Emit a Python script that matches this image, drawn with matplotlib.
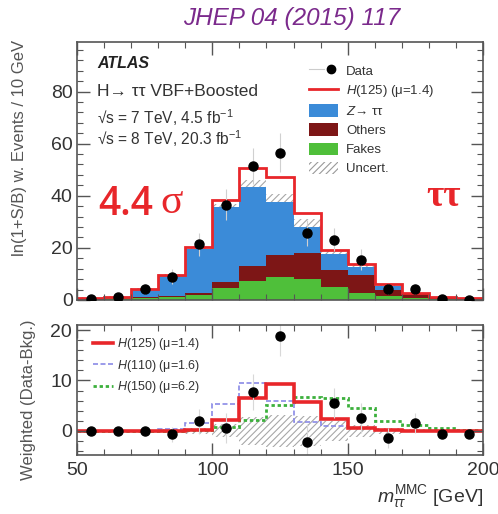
import numpy as np
import matplotlib
matplotlib.use("Agg")
import matplotlib.pyplot as plt
from matplotlib.lines import Line2D
from matplotlib.patches import Patch
from matplotlib.legend_handler import HandlerTuple
from matplotlib.ticker import MultipleLocator

plt.rcParams['font.family'] = ['Liberation Sans', 'DejaVu Sans']
plt.rcParams['mathtext.fontset'] = 'custom'
plt.rcParams['mathtext.rm'] = 'Liberation Sans'
plt.rcParams['mathtext.it'] = 'Liberation Sans:italic'
plt.rcParams['mathtext.bf'] = 'Liberation Sans:bold'
plt.rcParams['hatch.linewidth'] = 0.8

# ---------------- data ----------------
edges = [50, 60, 70, 80, 90, 100, 110, 120, 130, 140, 150, 160, 170, 180, 190, 200]
centers = [55, 65, 75, 85, 95, 105, 115, 125, 135, 145, 155, 165, 175, 185, 195]

fakes  = [0.5, 0.6, 0.9, 1.2, 1.8, 4.5, 7.2, 8.8, 7.9, 4.9, 2.6, 1.6, 0.9, 0.5, 0.4]
others = [0.1, 0.1, 0.2, 0.4, 0.8, 2.3, 5.8, 8.6, 10.1, 6.5, 7.1, 2.2, 1.3, 0.4, 0.2]
ztt    = [0.2, 0.5, 3.1, 7.8, 16.8, 28.9, 30.4, 20.2, 10.0, 6.3, 2.9, 1.5, 0.3, 0.1, 0.1]
h125   = [0.05, 0.1, 0.1, 0.3, 0.8, 2.6, 7.3, 9.6, 5.4, 1.6, 1.3, 0.9, 0.1, 0.05, 0.05]
bkg_unc = [0.2, 0.3, 0.4, 0.5, 0.8, 1.0, 2.6, 3.0, 3.0, 1.2, 1.0, 0.5, 0.3, 0.2, 0.2]
data_top = [0.4, 1.3, 4.2, 9.0, 21.3, 36.6, 51.5, 56.5, 25.7, 23.2, 15.4, 4.2, 4.2, 0.4, 0.1]
data_top_err = [0.8, 1.2, 2.0, 3.0, 4.5, 6.0, 7.0, 7.5, 5.0, 4.5, 4.0, 2.0, 2.0, 0.7, 0.5]

data_diff = [0.0, 0.0, 0.0, -0.7, 1.9, 0.6, 7.7, 18.9, -2.2, 5.5, 2.5, -1.5, 1.6, -0.7, -0.7]
data_diff_err = [0.5, 0.7, 1.0, 1.5, 2.5, 3.0, 3.5, 4.0, 3.5, 3.0, 3.0, 2.0, 2.0, 1.0, 0.8]
diff_unc = [0.1, 0.1, 0.2, 0.3, 0.6, 1.3, 2.8, 3.2, 3.0, 2.0, 1.2, 0.6, 0.3, 0.2, 0.1]
diff_h125 = [0.0, 0.0, 0.0, 0.0, 0.2, 2.1, 6.6, 9.2, 5.7, 2.3, 0.6, 0.1, 0.0, 0.0, 0.0]
diff_h110 = [0.0, 0.0, 0.0, 0.3, 1.5, 5.3, 9.5, 6.0, 1.8, 0.9, 0.5, 0.1, 0.0, 0.0, 0.0]
diff_h150 = [0.0, 0.0, 0.0, 0.0, 0.2, 0.8, 2.1, 5.2, 6.8, 6.6, 4.5, 2.0, 1.1, 0.5, 0.1]

# ---------------- colours ----------------
c_z = '#3b8bd8'
c_oth = '#7d1616'
c_fake = '#4fbf3a'
c_red = '#e8262a'
c_frame = '#555555'

W, H = 498, 514
fig = plt.figure(figsize=(W / 100, H / 100), dpi=100)

def fx(x):
    return x / W

def fy(y):
    return 1 - y / H

ax1 = fig.add_axes([fx(77), fy(300), fx(483) - fx(77), fy(42) - fy(300)])
ax2 = fig.add_axes([fx(77), fy(455), fx(483) - fx(77), fy(325) - fy(455)])

e = np.array(edges, float)
f = np.array(fakes)
o = np.array(others)
z = np.array(ztt)
s1 = f
s2 = f + o
s3 = f + o + z
tot = s3 + np.array(h125)

ax1.stairs(s1, e, baseline=0, fill=True, color=c_fake, lw=0)
ax1.stairs(s2, e, baseline=s1, fill=True, color=c_oth, lw=0)
ax1.stairs(s3, e, baseline=s2, fill=True, color=c_z, lw=0)
ax1.stairs(s3 + np.array(bkg_unc), e, baseline=s3, fill=True, facecolor='none',
           edgecolor='#a8a8a8', hatch='/////', lw=0)
ax1.stairs(tot, e, baseline=None, color=c_red, lw=2.0)
ax1.errorbar(centers, data_top, yerr=data_top_err, fmt='none', ecolor='#d0d0d0', elinewidth=0.8)
ax1.plot(centers, data_top, 'o', color='black', ms=6.5, zorder=5)

ax1.set_xlim(50, 200)
ax1.set_ylim(0, 99)

# bottom panel
ax2.stairs(np.array(diff_unc), e, baseline=-np.array(diff_unc), fill=True, facecolor='none',
           edgecolor='#a8a8a8', hatch='/////', lw=0)
ax2.stairs(diff_h150, e, baseline=None, color='#3cb03c', lw=2.0, ls=(0, (1.2, 1.0)))
ax2.stairs(diff_h110, e, baseline=None, color='#8a8ae6', lw=1.2, ls=(0, (3, 1.5)))
ax2.stairs(diff_h125, e, baseline=None, color=c_red, lw=2.6)
ax2.errorbar(centers, data_diff, yerr=data_diff_err, fmt='none', ecolor='#d8d8d8', elinewidth=0.8)
ax2.plot(centers, data_diff, 'o', color='black', ms=6.5, zorder=5)
ax2.set_xlim(50, 200)
ax2.set_ylim(-4.8, 21)

for ax in (ax1, ax2):
    for sp in ax.spines.values():
        sp.set_color(c_frame)
        sp.set_linewidth(1.2)
    ax.tick_params(which='both', direction='in', top=True, right=True, colors=c_frame,
                   labelcolor='#333333', labelsize=14)
    ax.tick_params(which='major', length=9, width=1)
    ax.tick_params(which='minor', length=4.5, width=0.8)
    ax.xaxis.set_major_locator(MultipleLocator(50))
    ax.xaxis.set_minor_locator(MultipleLocator(10))

ax1.yaxis.set_major_locator(MultipleLocator(20))
ax1.yaxis.set_minor_locator(MultipleLocator(4))
ax1.set_xticklabels([])
ax2.yaxis.set_major_locator(MultipleLocator(10))
ax2.yaxis.set_minor_locator(MultipleLocator(2))
ax1.tick_params(axis='y', pad=3)
ax2.tick_params(axis='x', pad=5)

# y labels
fig.text(fx(20), fy(40), 'ln(1+S/B) w. Events / 10 GeV', rotation=90, ha='center', va='top',
         fontsize=12, color='#555555')
fig.text(fx(28), fy(320), 'Weighted (Data-Bkg.)', rotation=90, ha='center', va='top',
         fontsize=12, color='#555555')
fig.text(fx(483), fy(502), r'$m_{\tau\tau}^{\mathrm{MMC}}$ [GeV]', ha='right', va='baseline',
         fontsize=14, color='#333333')

# title
fig.text(fx(292), fy(19), 'JHEP 04 (2015) 117', ha='center', va='center', fontsize=17.5,
         style='italic', color='#7b2a8c')

# annotations
fig.text(fx(97), fy(63), 'ATLAS', ha='left', va='center', fontsize=11.5, weight='bold',
         style='italic', color='#222222')
fig.text(fx(97), fy(92), 'H→ ττ VBF+Boosted', ha='left', va='center', fontsize=12.5, color='#333333')
fig.text(fx(97), fy(118), r'√s = 7 TeV, 4.5 fb$^{-1}$', ha='left', va='center', fontsize=11.2,
         color='#333333')
fig.text(fx(97), fy(139), r'√s = 8 TeV, 20.3 fb$^{-1}$', ha='left', va='center', fontsize=11.2,
         color='#333333')
fig.text(fx(98), fy(205), '4.4', ha='left', va='center', fontsize=28, color=c_red,
         family='Open Sans', weight='semibold')
fig.text(fx(160), fy(203), 'σ', ha='left', va='center', fontsize=30, color=c_red,
         family='Liberation Serif')
fig.text(fx(444), fy(196), 'ττ', ha='center', va='center', fontsize=27, color=c_red,
         family='Liberation Serif', weight='bold')

# legends
h_data = (Line2D([], [], color='#cccccc', lw=0.8), Line2D([], [], marker='o', color='black', ls='none', ms=6))
handles1 = [h_data,
            Line2D([], [], color=c_red, lw=2),
            Patch(facecolor=c_z, edgecolor='none'),
            Patch(facecolor=c_oth, edgecolor='none'),
            Patch(facecolor=c_fake, edgecolor='none'),
            Patch(facecolor='none', edgecolor='#9a9a9a', hatch='/////', lw=0)]
labels1 = ['Data', r'$H$(125) (μ=1.4)', r'$Z$→ ττ', 'Others', 'Fakes', 'Uncert.']
fig.legend(handles1, labels1, loc='upper left', bbox_to_anchor=(fx(309), fy(64)),
           frameon=False, fontsize=9.5, handlelength=2.2, handleheight=1.1,
           labelspacing=0.4, handletextpad=0.6, borderpad=0, borderaxespad=0,
           handler_map={tuple: HandlerTuple(ndivide=None)}, labelcolor='#333333')

handles2 = [Line2D([], [], color=c_red, lw=2.6),
            Line2D([], [], color='#8a8ae6', lw=1.2, ls=(0, (3, 1.5))),
            Line2D([], [], color='#3cb03c', lw=2.0, ls=(0, (1.2, 1.0)))]
labels2 = [r'$H$(125) (μ=1.4)', r'$H$(110) (μ=1.6)', r'$H$(150) (μ=6.2)']
fig.legend(handles2, labels2, loc='upper left', bbox_to_anchor=(fx(93), fy(336)),
           frameon=False, fontsize=9, handlelength=1.6, labelspacing=0.45,
           handletextpad=0.3, borderpad=0, borderaxespad=0, labelcolor='#333333')

fig.savefig('out.png', dpi=100)
